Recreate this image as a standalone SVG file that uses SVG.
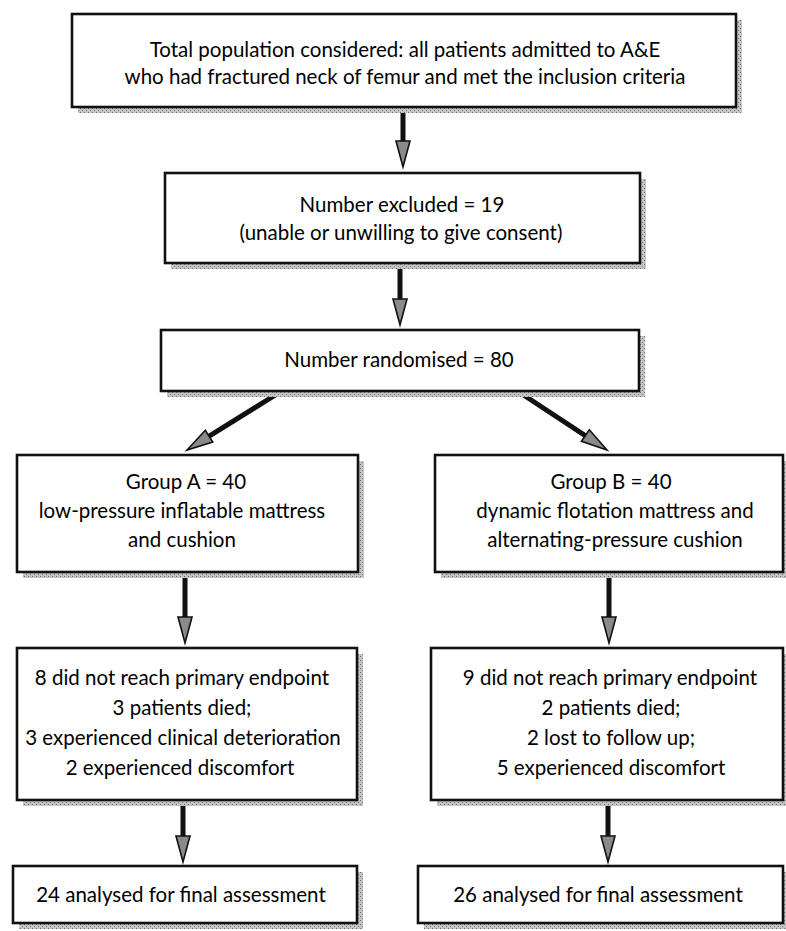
<svg xmlns="http://www.w3.org/2000/svg" width="786" height="931" viewBox="0 0 786 931">
<defs>
<pattern id="stip" width="4" height="4" patternUnits="userSpaceOnUse">
<rect width="4" height="4" fill="#c4c4c4"/>
<rect x="0" y="0" width="1" height="1" fill="#6a6a6a"/>
<rect x="2" y="2" width="1" height="1" fill="#7a7a7a"/>
</pattern>
</defs>
<style>
.box{fill:#fff;stroke:#111;stroke-width:2.6}
.sh{fill:url(#stip)}
.t{font-family:Lato,"Liberation Sans",sans-serif;font-size:20.5px;fill:#000;text-anchor:middle}
.shaft{stroke:#111;stroke-width:5;fill:none}
.head{fill:#8a8a8a;stroke:#111;stroke-width:1.6;stroke-linejoin:miter}
</style>
<rect width="786" height="931" fill="#fff"/>
<g id="connectors">
<line class="shaft" x1="403" y1="110" x2="403" y2="155"/>
<polygon class="head" points="396,141 410,141 403,167"/>
<line class="shaft" x1="400" y1="266" x2="400" y2="313"/>
<polygon class="head" points="393,299 407,299 400,325"/>
<line class="shaft" x1="277" y1="394" x2="197.1" y2="443.6"/>
<polygon class="head" points="212.7,442 205.3,430.2 187,450"/>
<line class="shaft" x1="522" y1="394" x2="597" y2="443.3"/>
<polygon class="head" points="581.5,441.3 589.3,429.7 607,450"/>
<line class="shaft" x1="185" y1="575" x2="185" y2="631"/>
<polygon class="head" points="178,617 192,617 185,643"/>
<line class="shaft" x1="609" y1="575" x2="609" y2="631"/>
<polygon class="head" points="602,617 616,617 609,643"/>
<line class="shaft" x1="183" y1="803" x2="183" y2="850"/>
<polygon class="head" points="176,836 190,836 183,862"/>
<line class="shaft" x1="608" y1="803" x2="608" y2="850"/>
<polygon class="head" points="601,836 615,836 608,862"/>
</g>
<g id="n1">
<rect class="sh" x="78" y="20" width="664" height="93"/>
<rect class="box" x="72" y="14" width="664" height="93"/>
<text class="t" x="405" y="57">Total population considered: all patients admitted to A&amp;E</text>
<text class="t" x="405" y="84">who had fractured neck of femur and met the inclusion criteria</text>
</g>
<g id="n2">
<rect class="sh" x="171" y="179" width="475" height="90"/>
<rect class="box" x="165" y="173" width="475" height="90"/>
<text class="t" x="402" y="212">Number excluded = 19</text>
<text class="t" x="401" y="240">(unable or unwilling to give consent)</text>
</g>
<g id="n3">
<rect class="sh" x="167" y="336" width="478" height="61"/>
<rect class="box" x="161" y="330" width="478" height="61"/>
<text class="t" x="399" y="367">Number randomised = 80</text>
</g>
<g id="nA">
<rect class="sh" x="23" y="461" width="341" height="117"/>
<rect class="box" x="17" y="455" width="341" height="117"/>
<text class="t" x="186" y="489">Group A = 40</text>
<text class="t" x="182" y="518">low-pressure inflatable mattress</text>
<text class="t" x="182" y="547">and cushion</text>
</g>
<g id="nB">
<rect class="sh" x="441" y="461" width="348" height="117"/>
<rect class="box" x="435" y="455" width="348" height="117"/>
<text class="t" x="611" y="489">Group B = 40</text>
<text class="t" x="615" y="518">dynamic flotation mattress and</text>
<text class="t" x="615" y="547">alternating-pressure cushion</text>
</g>
<g id="nA2">
<rect class="sh" x="23" y="654" width="340" height="152"/>
<rect class="box" x="17" y="648" width="340" height="152"/>
<text class="t" x="182" y="685">8 did not reach primary endpoint</text>
<text class="t" x="182" y="715">3 patients died;</text>
<text class="t" x="183" y="745">3 experienced clinical deterioration</text>
<text class="t" x="180" y="775">2 experienced discomfort</text>
</g>
<g id="nB2">
<rect class="sh" x="437" y="654" width="352" height="152"/>
<rect class="box" x="431" y="648" width="352" height="152"/>
<text class="t" x="610" y="685">9 did not reach primary endpoint</text>
<text class="t" x="611" y="715">2 patients died;</text>
<text class="t" x="611" y="745">2 lost to follow up;</text>
<text class="t" x="611" y="775">5 experienced discomfort</text>
</g>
<g id="nA3">
<rect class="sh" x="19" y="872" width="344" height="57"/>
<rect class="box" x="13" y="866" width="344" height="57"/>
<text class="t" x="181" y="902">24 analysed for final assessment</text>
</g>
<g id="nB3">
<rect class="sh" x="424" y="872" width="365" height="57"/>
<rect class="box" x="418" y="866" width="365" height="57"/>
<text class="t" x="598" y="902">26 analysed for final assessment</text>
</g>
</svg>
